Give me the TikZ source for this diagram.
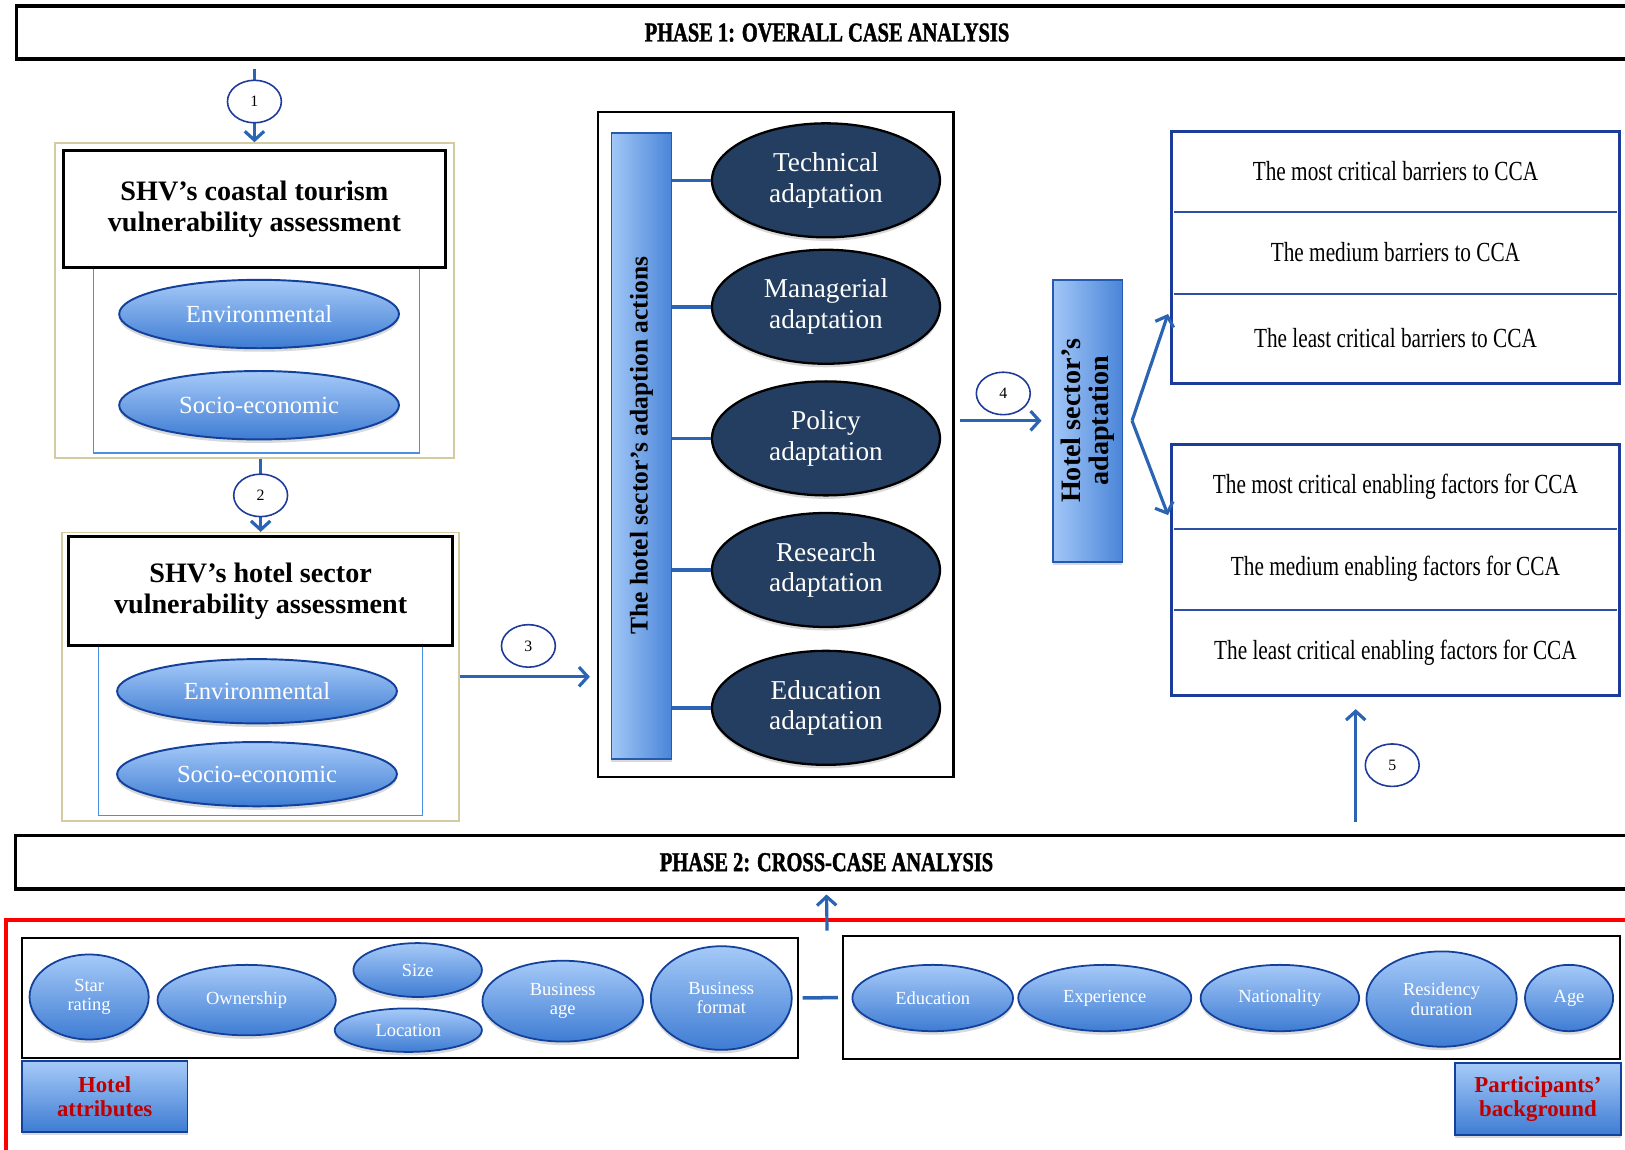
\documentclass[tikz,border=0pt]{standalone}
\usepackage{fontspec}
\setmainfont{Liberation Serif}
\newfontfamily\condserif[FakeStretch=0.77]{Liberation Serif}
\newfontfamily\headserif[FakeStretch=0.75,FakeBold=1.5]{Liberation Serif}
\usetikzlibrary{positioning,shapes.geometric,arrows.meta,shadows}

\begin{document}
\begin{tikzpicture}[x=0.0207cm,y=-0.0207cm,
  wh/.style 2 args={minimum width=#1*\px,minimum height=#2*\px},
  soft/.style={drop shadow={shadow xshift=0pt,shadow yshift=-2pt,opacity=0.3}},
  phase/.style={draw,line width=2pt,fill=white,inner sep=0pt,font=\headserif\bfseries\fontsize{15.5}{17}\selectfont},
  tanbox/.style={draw=tanline,line width=0.9pt},
  innerbox/.style={draw=skyline,line width=0.7pt},
  titlebox/.style={draw,line width=1.6pt,fill=white,align=center,inner sep=0pt,font=\bfseries\fontsize{16}{17.5}\selectfont},
  vuln/.style={ellipse,draw=ellline,line width=1.1pt,top color=elltop,bottom color=ellbot,text=white,inner sep=0pt,soft,font=\fontsize{14}{16}\selectfont},
  action/.style={ellipse,draw=black,line width=1.3pt,fill=navy,text=white,align=center,inner sep=0pt,wh={220}{110},soft,font=\fontsize{15.5}{17.5}\selectfont},
  vbar/.style={draw=barline,line width=1pt,left color=barleft,right color=barright,inner sep=0pt,soft},
  barlab/.style={rotate=90,align=center,font=\bfseries\fontsize{14.5}{16}\selectfont},
  outline/.style={draw,line width=1.2pt},
  ccabox/.style={draw=ccaline,line width=1.6pt},
  rowtxt/.style={inner sep=0pt,font=\condserif\fontsize{15.7}{17}\selectfont},
  divider/.style={draw=divline,line width=1pt,shorten <=2pt,shorten >=2pt},
  numc/.style={ellipse,draw=numline,line width=0.9pt,fill=white,inner sep=0pt,wh={52}{41},font=\fontsize{9}{9}\selectfont},
  arr/.style={draw=arrblue,line width=1.8pt,-{Straight Barb[length=5pt,width=11pt]}},
  link/.style={draw=arrblue,line width=2pt},
  attr/.style={ellipse,draw=ellline,line width=1pt,top color=elltop,bottom color=ellbot,text=white,align=center,inner sep=0pt,soft,font=\fontsize{10.5}{11}\selectfont},
  labbox/.style={draw=ellline,line width=1pt,top color=elltop,bottom color=ellbot,text=tagred,align=center,inner sep=0pt,soft,font=\bfseries\fontsize{13}{13.5}\selectfont},
  redframe/.style={draw=red,line width=2.3pt}]
\pgfmathsetlengthmacro\px{0.0207cm}
\definecolor{tanline}{HTML}{D5CBA3}
\definecolor{skyline}{HTML}{4A8FE0}
\definecolor{ellline}{HTML}{12409A}
\definecolor{elltop}{HTML}{A6CAF8}
\definecolor{ellbot}{HTML}{3E7CD3}
\definecolor{navy}{HTML}{233E60}
\definecolor{barline}{HTML}{2659B0}
\definecolor{barleft}{HTML}{A2C7F7}
\definecolor{barright}{HTML}{4A85D8}
\definecolor{ccaline}{HTML}{1B3C9A}
\definecolor{divline}{HTML}{2D4FA5}
\definecolor{numline}{HTML}{1E3A9A}
\definecolor{arrblue}{HTML}{2A64B3}
\definecolor{tagred}{HTML}{C00000}
\useasboundingbox (0,0) rectangle (1568,1109);

\node[redframe,wh={1584}{242}] (redbox) at (798,1009) {};
\node[phase,wh={1564}{51}] (ph1) at (798,31.5) {PHASE 1: OVERALL CASE ANALYSIS};
\node[phase,wh={1565}{52}] (ph2) at (797.5,832) {PHASE 2: CROSS-CASE ANALYSIS};

\node[tanbox,wh={385}{304}] (out1) at (245.5,290) {};
\node[innerbox,wh={315}{180}] (in1) at (247.5,347) {};
\node[titlebox,wh={369}{113}] (tit1) at (245.5,202) {SHV’s coastal tourism\\vulnerability assessment};
\node[vuln,wh={270}{66}] (env1) at (250,303) {Environmental};
\node[vuln,wh={270}{66}] (soc1) at (250,391) {Socio-economic};

\node[tanbox,wh={383}{278}] (out2) at (251.5,653) {};
\node[innerbox,wh={313}{164}] (in2) at (251.5,705) {};
\node[titlebox,wh={371}{105}] (tit2) at (251.5,570.5) {SHV’s hotel sector\\vulnerability assessment};
\node[vuln,wh={270}{62}] (env2) at (248,667) {Environmental};
\node[vuln,wh={270}{62}] (soc2) at (248,747) {Socio-economic};

\node[outline,wh={343}{642}] (midbox) at (748.5,429) {};
\node[vbar,wh={58}{604}] (actbar) at (619,430) {};
\node[barlab] (actlab) at (actbar.center) {The hotel sector’s adaption actions};
\foreach \id/\y/\txt in {tech/174/Technical,mana/296/Managerial,poli/423/Policy,rese/550/Research,educ/683/Education}{
  \node[action] (\id) at (797,\y) {\txt\\adaptation};
  \draw[link] (actbar.east |- \id.west) -- (\id.west);
}

\node[vbar,wh={67}{272}] (hsa) at (1049.5,406) {};
\node[barlab,font=\bfseries\fontsize{16}{16}\selectfont] (hsalab) at (hsa.center) {Hotel sector’s\\adaptation};

\node[ccabox,wh={433}{243}] (barr) at (1346.5,248.5) {};
\foreach \id/\y/\h/\txt in {b1/165.5/77/The most critical barriers to CCA,b2/243.5/79/The medium barriers to CCA,b3/326.5/87/The least critical barriers to CCA}
  \node[rowtxt,wh={433}{\h}] (\id) at (1346.5,\y) {\txt};
\draw[divider] (b1.south west) -- (b1.south east);
\draw[divider] (b2.south west) -- (b2.south east);

\node[ccabox,wh={433}{242}] (enab) at (1346.5,550) {};
\foreach \id/\y/\h/\txt in {e1/469.5/81/The most critical enabling factors for CCA,e2/549/78/The medium enabling factors for CCA,e3/629.5/83/The least critical enabling factors for CCA}
  \node[rowtxt,wh={433}{\h}] (\id) at (1346.5,\y) {\txt};
\draw[divider] (e1.south west) -- (e1.south east);
\draw[divider] (e2.south west) -- (e2.south east);

\draw[arr,shorten <=4.7pt] (ph1.south -| out1.north) -- node[numc] {1} (out1.north);
\draw[arr] (out2.north |- out1.south) -- node[numc] {2} (out2.north);
\draw[arr,shorten >=4pt] (out2.east) -- node[numc,above=5pt] {3} (midbox.west |- out2.east);
\draw[arr,shorten <=3pt,shorten >=6pt] (midbox.east |- hsa.west) -- node[numc,above=3pt] {4} (hsa.west);
\coordinate (split) at ([xshift=5pt]hsa.east);
\coordinate (tipA) at (1127,303);
\coordinate (tipB) at (1127,497);
\draw[arr] (split) -- (tipA);
\draw[arr] (split) -- (tipB);
\coordinate (up5) at ([xshift=-22.6pt]enab.south);
\draw[arr,shorten <=6.5pt,shorten >=7pt] (up5 |- ph2.north) -- node[numc,right=5pt] {5} (up5);

\node[outline,wh={749}{116}] (hattr) at (395.5,963) {};
\node[outline,wh={750}{119}] (pback) at (1188,962.5) {};
\draw[link,shorten <=2pt,shorten >=2pt] (hattr.east) -- (pback.west);
\coordinate (upbase) at ([yshift=-7pt]redbox.north);
\draw[arr,shorten >=2pt] (upbase) -- (ph2.south);

\foreach \id/\x/\y/\w/\h/\txt in {star/86/962/115/82/Star\\rating,own/238/965/172/68/Ownership,size/403/936/124/52/Size,loc/394/994/142/42/Location,bage/543/966/155/78/Business\\age,bfor/696/963/136/100/Business\\format,edu/900/963/155/64/Education,exp/1066/963/167/64/Experience,nat/1235/963/153/64/Nationality,res/1391/964/145/92/Residency\\duration,age/1514/963/85/64/Age}
  \node[attr,wh={\w}{\h}] (\id) at (\x,\y) {\txt};

\node[labbox,wh={160}{68}] (hlab) at (101,1058) {Hotel\\attributes};
\node[labbox,wh={160}{69}] (plab) at (1484,1060.5) {Participants’\\background};
\end{tikzpicture}
\end{document}
